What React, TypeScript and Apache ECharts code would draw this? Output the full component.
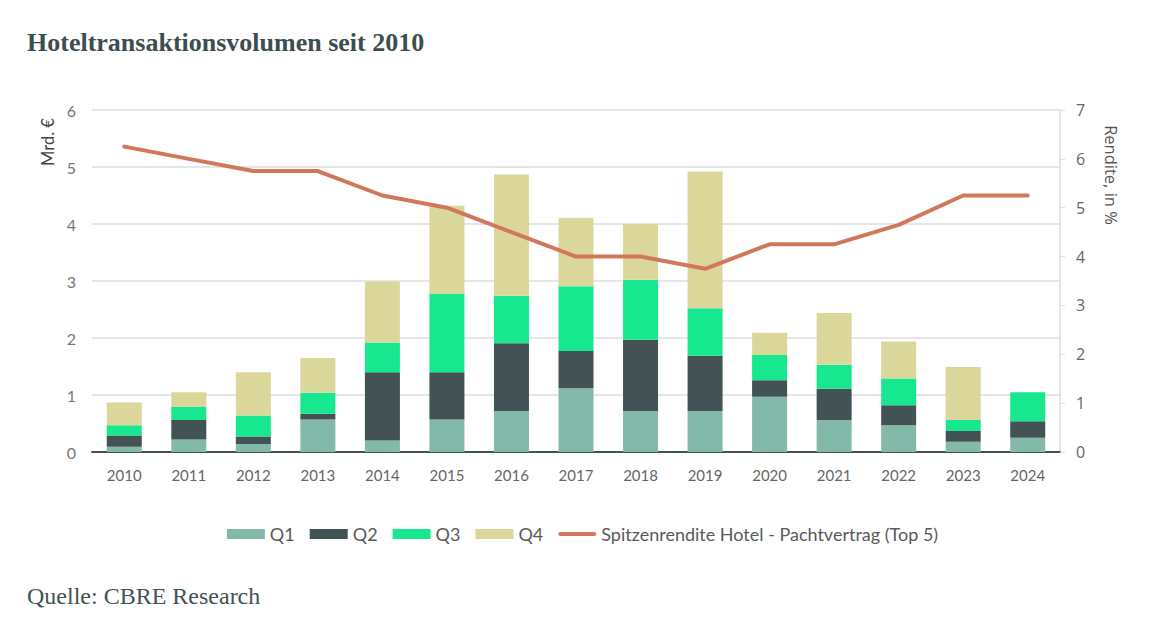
import React, { useEffect, useRef } from "react";
import * as echarts from "echarts";

const years = ["2010","2011","2012","2013","2014","2015","2016","2017","2018","2019","2020","2021","2022","2023","2024"];
const q1 = [0.09,0.22,0.14,0.57,0.20,0.57,0.72,1.12,0.72,0.72,0.97,0.56,0.47,0.18,0.25];
const q2 = [0.20,0.34,0.13,0.10,1.20,0.83,1.19,0.65,1.25,0.97,0.29,0.55,0.35,0.19,0.29];
const q3 = [0.18,0.23,0.37,0.37,0.52,1.37,0.83,1.14,1.05,0.83,0.44,0.42,0.47,0.19,0.51];
const q4 = [0.40,0.26,0.76,0.61,1.07,1.55,2.13,1.20,0.98,2.40,0.39,0.91,0.65,0.93,0];
const rendite = [6.25,6.0,5.75,5.75,5.25,5.0,4.5,4.0,4.0,3.75,4.25,4.25,4.65,5.25,5.25];

const FONT = "Lato, 'Open Sans', sans-serif";
const LINE_NAME = "Spitzenrendite Hotel - Pachtvertrag (Top 5)";

export default function App() {
  const ref = useRef<HTMLDivElement>(null);
  useEffect(() => {
    document.body.style.margin = "0";
    const chart = echarts.init(ref.current!, null, { renderer: "svg" });
    const barSeries = (name: string, data: number[], color: string) => ({
      name, type: "bar", stack: "vol", data, barWidth: 35,
      itemStyle: { color }, yAxisIndex: 0,
    });
    chart.setOption({
      animation: false,
      backgroundColor: "#ffffff",
      textStyle: { fontFamily: FONT },
      grid: { left: 92, right: 105, top: 110, bottom: 170, containLabel: false },
      graphic: [
        { type: "text", left: 27, top: 29, style: { text: "Hoteltransaktionsvolumen seit 2010", font: "bold 26px 'Liberation Serif', 'Times New Roman', serif", fill: "#3d4e50" } },
        { type: "text", left: 27, top: 584, style: { text: "Quelle: CBRE Research", font: "24px 'Liberation Serif', 'Times New Roman', serif", fill: "#435254" } },
        { type: "text", x: 48, y: 142, rotation: Math.PI / 2, style: { text: "Mrd. €", font: `16.5px ${FONT}`, fill: "#444", align: "center", verticalAlign: "middle" } },
        { type: "text", x: 1111, y: 175, rotation: -Math.PI / 2, style: { text: "Rendite, in %", font: "16.5px 'Open Sans', sans-serif", fill: "#555", align: "center", verticalAlign: "middle" } },
      ],
      legend: {
        top: 520, left: "center", itemWidth: 38, itemHeight: 10, itemGap: 15,
        textStyle: { color: "#5a5a5a", fontSize: 18, fontFamily: FONT, padding: [0, 0, 0, 0] },
        data: [
          { name: "Q1", icon: "rect" },
          { name: "Q2", icon: "rect" },
          { name: "Q3", icon: "rect" },
          { name: "Q4", icon: "rect" },
          { name: LINE_NAME, icon: "path://M0,0 M38,10 M2,3 L36,3 A2,2 0 0 1 36,7 L2,7 A2,2 0 0 1 2,3 Z" },
        ],
      },
      xAxis: {
        type: "category", data: years,
        axisLine: { lineStyle: { color: "#435254", width: 2 } },
        axisTick: { show: false },
        axisLabel: { color: "#666", fontSize: 15, margin: 15, fontFamily: FONT },
      },
      yAxis: [
        {
          type: "value", min: 0, max: 6, interval: 1, position: "left",
          axisLine: { show: false }, axisTick: { show: false },
          axisLabel: { color: "#777", fontSize: 16, margin: 16, fontFamily: FONT },
          splitLine: { lineStyle: { color: "#dcdfdf", width: 1.5 } },
        },
        {
          type: "value", min: 0, max: 7, interval: 1, position: "right",
          axisLine: { show: true, lineStyle: { color: "#dcdfdf", width: 1.5 } },
          axisTick: { show: true, length: 5, lineStyle: { color: "#dcdfdf" } },
          axisLabel: { color: "#666", fontSize: 16, margin: 16, fontFamily: "'Open Sans', sans-serif" },
          splitLine: { show: false },
        },
      ],
      series: [
        barSeries("Q1", q1, "#82b9a9"),
        barSeries("Q2", q2, "#435254"),
        barSeries("Q3", q3, "#17e88f"),
        barSeries("Q4", q4, "#dbd79b"),
        {
          name: LINE_NAME, type: "line", yAxisIndex: 1,
          data: rendite, symbol: "none", showSymbol: false,
          lineStyle: { color: "#d2785a", width: 4, cap: "round" }, itemStyle: { color: "#d2785a" },
        },
      ],
    });
    return () => chart.dispose();
  }, []);
  return <div ref={ref} style={{ position: "fixed", left: 0, top: 0, width: 1165, height: 622 }} />;
}
